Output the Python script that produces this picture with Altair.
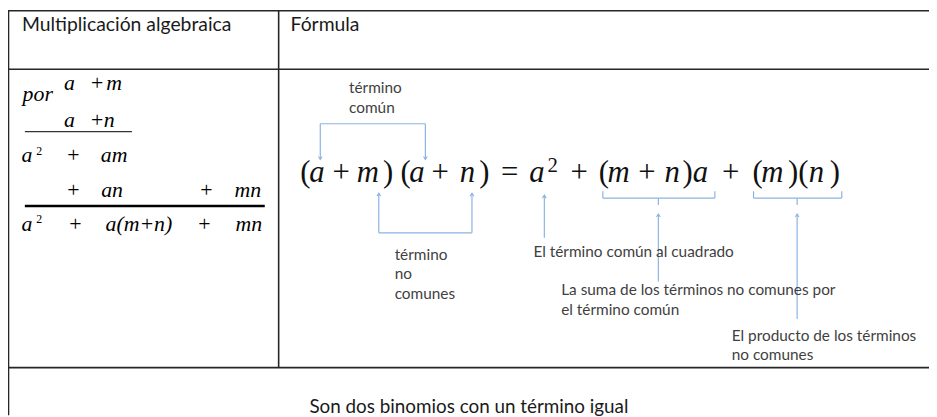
import altair as alt
import pandas as pd

# ---------------- content ----------------
HEADERS = ["Multiplicación algebraica", "Fórmula"]
HEADER_X = [22, 293]
HEADER_Y = [29, 29]

FOOTER = ["Son dos binomios con un término igual"]
FOOTER_X = [312]
FOOTER_Y = [415]

NOTES = ["término", "común", "término", "no", "comunes",
         "El término común al cuadrado",
         "La suma de los términos no comunes por", "el término común",
         "El producto de los términos", "no comunes"]
NOTES_X = [352, 352, 398, 398, 398, 538, 566, 566, 738, 738]
NOTES_Y = [92, 112, 260, 280, 300, 257, 296, 316, 342, 361]

# formula (a+m)(a+n) = a^2 + (m+n)a + (m)(n)
FORMULA_TOKENS = ["(", "a", "+", "m", ")", "(", "a", "+", "n", ")", "=", "a",
                  "+", "(", "m", "+", "n", ")", "a", "+", "(", "m", ")(", "n", ")"]
FORMULA_X = [308, 321.5, 344, 373, 391.5, 409, 422.5, 444, 473.5, 488.5, 514, 543.5,
             584, 609, 626, 652.5, 680, 693.5, 708.5, 737, 764, 781, 805, 825.5, 842]
FORMULA_Y = 182
FORMULA_SUP = ["2"]
FORMULA_SUP_X = [557.5]
FORMULA_SUP_Y = [172]

# left column vertical multiplication
LEFT_TOKENS = ["a", "+", "m", "por", "a", "+", "n",
               "a", "+", "am",
               "+", "an", "+", "mn",
               "a", "+", "a(m+n)", "+", "mn"]
LEFT_X = [71, 98, 116, 39, 71, 98, 111,
          28, 74, 116,
          74, 114, 208, 251,
          28, 76, 141, 206, 252]
LEFT_Y = [89, 89, 89, 100, 126, 126, 126,
          162, 162, 162,
          197, 197, 197, 197,
          231, 231, 231, 231, 231]
LEFT_SUP = ["2", "2"]
LEFT_SUP_X = [39.5, 39.5]
LEFT_SUP_Y = [154, 223]

# table grid lines (x, y, x2, y2)
GRID_X = [8, 8, 8, 8.5, 281]
GRID_Y = [9, 68, 369, 9, 9]
GRID_X2 = [937, 937, 937, 8.5, 281]
GRID_Y2 = [9, 68, 369, 417, 369]

# rules of the vertical multiplication
MATH_X = [25, 25]
MATH_Y = [131, 206]
MATH_X2 = [133, 267]
MATH_Y2 = [131, 206]
MATH_W = [1, 2.5]

# blue connectors
CON_X = [323, 323, 429, 382, 476, 382, 549,
         608, 721, 608, 664, 664,
         760, 849, 760, 804, 804]
CON_Y = [123, 123, 123, 193, 193, 233, 195,
         191, 191, 198, 198, 214,
         191, 191, 198, 198, 214]
CON_X2 = [429, 323, 429, 382, 476, 476, 549,
          608, 721, 721, 664, 664,
          760, 849, 849, 804, 804]
CON_Y2 = [123, 159, 159, 233, 233, 233, 238,
          198, 198, 198, 205, 282,
          198, 198, 198, 205, 320]

ARROW_DOWN_X = [323, 429]
ARROW_DOWN_Y = [159, 159]
ARROW_UP_X = [382, 476, 549, 664, 804]
ARROW_UP_Y = [193, 193, 195, 214, 214]

# ---------------- chart ----------------
XS = alt.Scale(domain=[8, 937], nice=False, zero=False)
YS = alt.Scale(domain=[8, 417], nice=False, zero=False, reverse=True)
BLUE = "#8db3e2"
SANS = "Lato"
SERIF = "Liberation Serif"
ITALIC_SHIFT = -2.0


def xy():
    return dict(x=alt.X("x:Q", scale=XS, axis=None), y=alt.Y("y:Q", scale=YS, axis=None))


def text_layer(texts, xs, ys, font, size, color, style="normal", align="left", dx=0):
    df = pd.DataFrame({"t": texts, "x": xs, "y": ys})
    return alt.Chart(df).mark_text(font=font, fontSize=size, color=color, fontStyle=style,
                                   align=align, baseline="alphabetic", dx=dx).encode(text="t:N", **xy())


def rule_layer(xs, ys, x2s, y2s, color, width):
    df = pd.DataFrame({"x": xs, "y": ys, "x2": x2s, "y2": y2s})
    return alt.Chart(df).mark_rule(color=color, strokeWidth=width).encode(
        x2="x2:Q", y2="y2:Q", **xy())


layers = []
layers.append(rule_layer(GRID_X, GRID_Y, GRID_X2, GRID_Y2, "#262626", 1.6))
for i in range(len(MATH_X)):
    layers.append(rule_layer([MATH_X[i]], [MATH_Y[i]], [MATH_X2[i]], [MATH_Y2[i]], "#000000", MATH_W[i]))
layers.append(rule_layer(CON_X, CON_Y, CON_X2, CON_Y2, BLUE, 1.2))

up_df = pd.DataFrame({"x": ARROW_UP_X, "y": ARROW_UP_Y})
down_df = pd.DataFrame({"x": ARROW_DOWN_X, "y": ARROW_DOWN_Y})
layers.append(alt.Chart(up_df).mark_point(shape="M-1,1.6L0,0L1,1.6", size=14, filled=False,
                                          color=BLUE, strokeWidth=1.1, opacity=1).encode(**xy()))
layers.append(alt.Chart(down_df).mark_point(shape="M-1,-1.6L0,0L1,-1.6", size=14, filled=False,
                                            color=BLUE, strokeWidth=1.1, opacity=1).encode(**xy()))

# texts
layers.append(text_layer(HEADERS, HEADER_X, HEADER_Y, SANS, 19.5, "#1a1a1a"))
layers.append(text_layer(FOOTER, FOOTER_X, FOOTER_Y, SANS, 19, "#1a1a1a"))
layers.append(text_layer(NOTES, NOTES_X, NOTES_Y, SANS, 15.5, "#3f3f3f"))

it_idx = [i for i, t in enumerate(FORMULA_TOKENS) if t.isalpha()]
up_idx = [i for i, t in enumerate(FORMULA_TOKENS) if not t.isalpha()]
layers.append(text_layer([FORMULA_TOKENS[i] for i in it_idx], [FORMULA_X[i] for i in it_idx],
                         [FORMULA_Y] * len(it_idx), SERIF, 31, "#111111", "italic", "center",
                         ITALIC_SHIFT))
layers.append(text_layer([FORMULA_TOKENS[i] for i in up_idx], [FORMULA_X[i] for i in up_idx],
                         [FORMULA_Y] * len(up_idx), SERIF, 31, "#111111", "normal", "center"))
layers.append(text_layer(FORMULA_SUP, FORMULA_SUP_X, FORMULA_SUP_Y, SERIF, 21, "#111111", "normal", "center"))

lit = [i for i, t in enumerate(LEFT_TOKENS) if t != "+"]
lup = [i for i, t in enumerate(LEFT_TOKENS) if t == "+"]
layers.append(text_layer([LEFT_TOKENS[i] for i in lit], [LEFT_X[i] for i in lit],
                         [LEFT_Y[i] for i in lit], SERIF, 22, "#000000", "italic", "center", -1))
layers.append(text_layer([LEFT_TOKENS[i] for i in lup], [LEFT_X[i] for i in lup],
                         [LEFT_Y[i] for i in lup], SERIF, 22, "#000000", "normal", "center"))
layers.append(text_layer(LEFT_SUP, LEFT_SUP_X, LEFT_SUP_Y, SERIF, 12, "#000000", "normal", "center"))

chart = alt.layer(*layers).properties(
    width=929, height=409, padding=0,
    autosize=alt.AutoSizeParams(type="none"),
    background="white",
).configure_view(stroke=None)

chart.save("out.html", embed_options={"renderer": "svg", "actions": False})
